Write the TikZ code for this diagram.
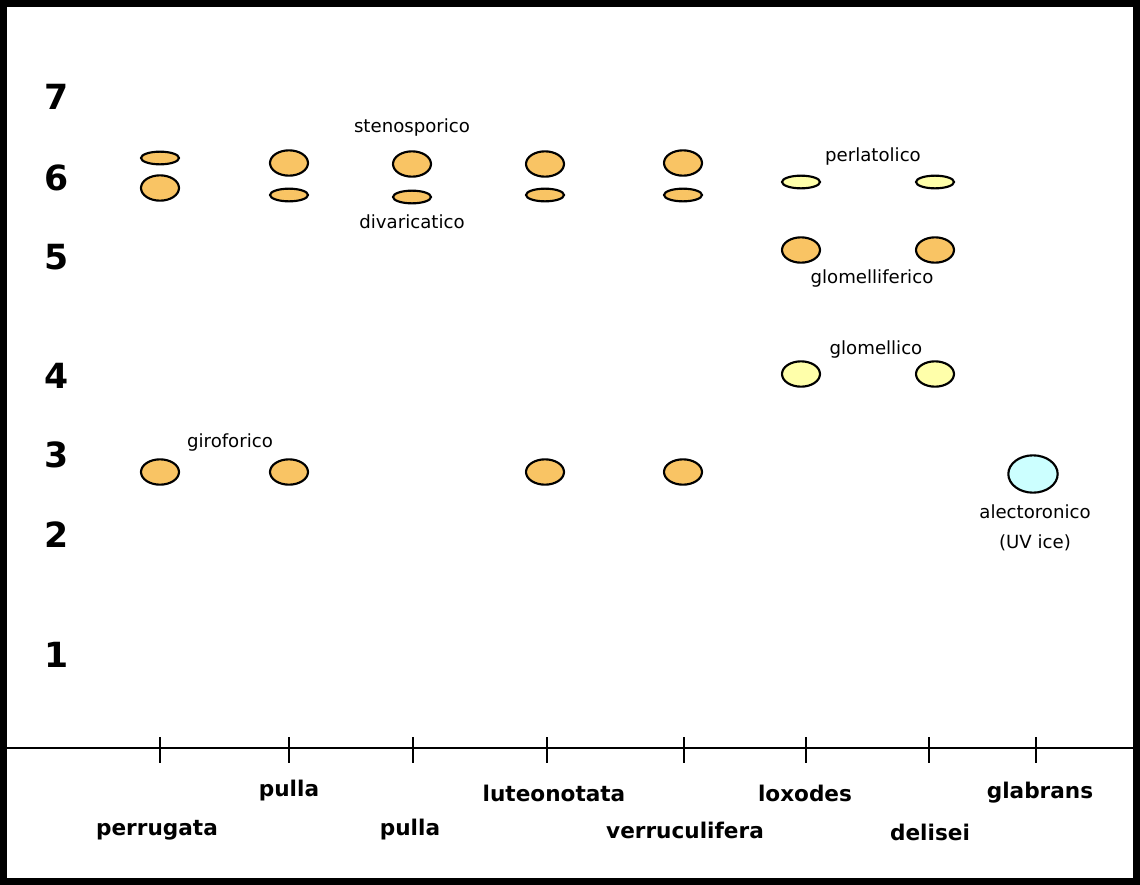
\documentclass[tikz,border=0pt]{standalone}
\usepackage{fontspec}
\setmainfont{DejaVu Sans}
\usetikzlibrary{shapes.geometric}
\definecolor{spotorange}{RGB}{249,196,100}
\definecolor{spotyellow}{RGB}{255,255,170}
\definecolor{spotblue}{RGB}{204,255,255}
\begin{document}
\begin{tikzpicture}[x=0.75pt, y=-0.75pt,
spot/.style={ellipse, draw, line width=1.6pt, inner sep=0pt, minimum width=28.5pt, minimum height=19pt},
flatspot/.style={spot, minimum height=9.5pt},
orangespot/.style={spot, fill=spotorange},
orangeflat/.style={flatspot, fill=spotorange},
yellowspot/.style={spot, fill=spotyellow},
yellowflat/.style={flatspot, fill=spotyellow},
bluespot/.style={spot, fill=spotblue, minimum width=37pt, minimum height=28pt},
acidlabel/.style={font=\fontsize{13.6}{16}\selectfont, inner sep=0pt},
specieslabel/.style={font=\fontsize{16.2}{19}\selectfont\bfseries, inner sep=0pt},
levellabel/.style={font=\fontsize{26}{31}\selectfont\bfseries, inner sep=0pt},
]
\useasboundingbox (0,0) rectangle (1140,885);
\draw[line width=5.25pt] (3.5,3.5) rectangle (1136.5,881.5);
%Levels
\node[levellabel] at (57,97) (l7) {7};
\node[levellabel] at (57,178) (l6) {6};
\node[levellabel] at (57,257) (l5) {5};
\node[levellabel] at (57,376) (l4) {4};
\node[levellabel] at (57,455) (l3) {3};
\node[levellabel] at (57,535) (l2) {2};
\node[levellabel] at (57,655) (l1) {1};
%Axis
\coordinate (axl) at (7,748);
\coordinate (axr) at (1133,748);
\draw[line width=1.8pt] (axl) -- (axr);
\foreach \x/\n in {160/perr, 289/pullaa, 413/pullab, 547/lute, 684/verr, 806/loxo, 929/deli, 1036/glab}{
  \coordinate (t\n) at (\x,737);
  \coordinate (b\n) at (\x,763);
  \draw[line width=1pt] (t\n) -- (b\n);
}
%Species
\node[specieslabel] at (157,830) (perrugata) {perrugata};
\node[specieslabel] at (289,791) (pulla1) {pulla};
\node[specieslabel] at (410,830) (pulla2) {pulla};
\node[specieslabel] at (554,793) (luteonotata) {luteonotata};
\node[specieslabel] at (685,830) (verruculifera) {verruculifera};
\node[specieslabel] at (805,793) (loxodes) {loxodes};
\node[specieslabel] at (930,832) (delisei) {delisei};
\node[specieslabel] at (1040,793) (glabrans) {glabrans};
%Spots
\node[orangeflat] at (160,158) (a1) {};
\node[orangespot] at (160,188) (a2) {};
\node[orangespot] at (289,163) (b1) {};
\node[orangeflat] at (289,195) (b2) {};
\node[orangespot] at (412,164) (c1) {};
\node[orangeflat] at (412,197) (c2) {};
\node[orangespot] at (545,164) (d1) {};
\node[orangeflat] at (545,195) (d2) {};
\node[orangespot] at (683,163) (e1) {};
\node[orangeflat] at (683,195) (e2) {};
\node[yellowflat] at (801,182) (f1) {};
\node[orangespot] at (801,250) (f2) {};
\node[yellowspot] at (801,374) (f3) {};
\node[yellowflat] at (935,182) (g1) {};
\node[orangespot] at (935,250) (g2) {};
\node[yellowspot] at (935,374) (g3) {};
\node[orangespot] at (160,472) (a3) {};
\node[orangespot] at (289,472) (b3) {};
\node[orangespot] at (545,472) (d3) {};
\node[orangespot] at (683,472) (e3) {};
\node[bluespot] at (1033,474) (h1) {};
%Acids
\node[acidlabel] at (412,127) (steno) {stenosporico};
\node[acidlabel] at (412,222) (divar) {divaricatico};
\node[acidlabel] at (873,156) (perla) {perlatolico};
\node[acidlabel] at (872,278) (glomf) {glomelliferico};
\node[acidlabel] at (876,349) (glom) {glomellico};
\node[acidlabel] at (230,442) (giro) {giroforico};
\node[acidlabel] at (1035,512) (alect) {alectoronico};
\node[acidlabel] at (1035,543) (uvice) {(UV ice)};
\end{tikzpicture}
\end{document}
